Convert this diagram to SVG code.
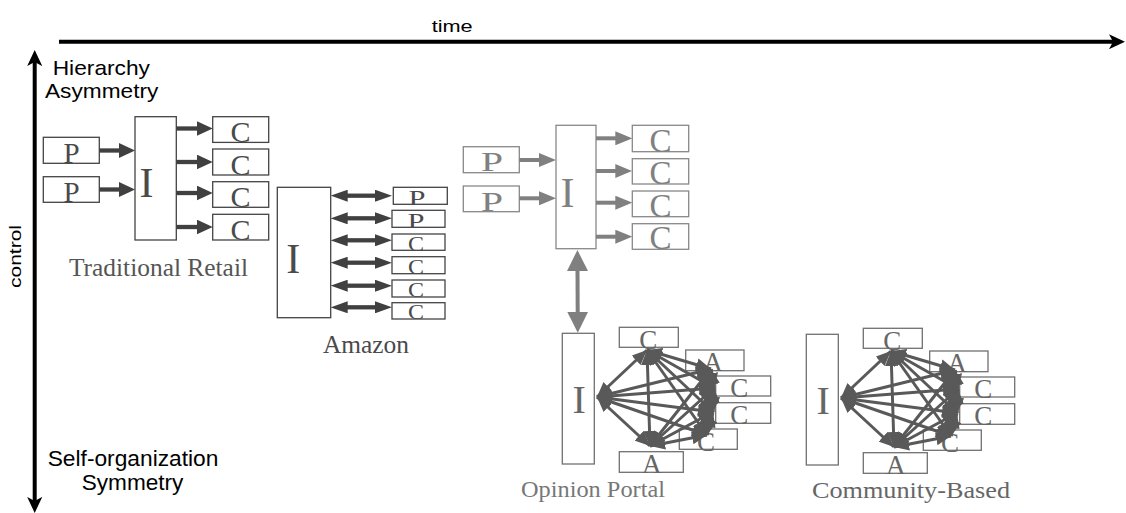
<svg xmlns="http://www.w3.org/2000/svg" width="1126" height="513" viewBox="0 0 1126 513">
<style>
.sans{font-family:"Liberation Sans",Arial,sans-serif;fill:#000}
.ser{font-family:"Liberation Serif","Times New Roman",serif;text-anchor:middle}
.b1{fill:#fff;stroke:#444;stroke-width:1.3}
.t1{fill:#4a4a4a}
.b3{fill:#fff;stroke:#888;stroke-width:1.3}
.t3{fill:#808080}
.bn{fill:#fff;stroke:#707070;stroke-width:1.3}
.tn{fill:#666}
.a1{stroke:#404040;stroke-width:4.3;fill:none}
.a3{stroke:#808080;stroke-width:4;fill:none}
.e{stroke:#595959;stroke-width:3;fill:none;marker-start:url(#m5);marker-end:url(#m5)}
</style>
<defs>
<marker id="mAx" markerUnits="userSpaceOnUse" viewBox="0 0 16 15" markerWidth="16" markerHeight="15" refX="4" refY="7.5" orient="auto-start-reverse"><path d="M0,0 L16,7.5 L0,15 L4,7.5 z" fill="#000"/></marker>
<marker id="m1" markerUnits="userSpaceOnUse" viewBox="0 0 16 15" markerWidth="16" markerHeight="15" refX="1" refY="7.5" orient="auto-start-reverse"><path d="M0,0 L16,7.5 L0,15 z" fill="#404040"/></marker>
<marker id="m2" markerUnits="userSpaceOnUse" viewBox="0 0 17 12" markerWidth="17" markerHeight="12" refX="1" refY="6" orient="auto-start-reverse"><path d="M0,0 L17,6 L0,12 z" fill="#404040"/></marker>
<marker id="m3" markerUnits="userSpaceOnUse" viewBox="0 0 17 14" markerWidth="17" markerHeight="14" refX="1" refY="7" orient="auto-start-reverse"><path d="M0,0 L17,7 L0,14 z" fill="#808080"/></marker>
<marker id="m4" markerUnits="userSpaceOnUse" viewBox="0 0 21 21" markerWidth="21" markerHeight="21" refX="1" refY="10.5" orient="auto-start-reverse"><path d="M0,0 L21,10.5 L0,21 z" fill="#808080"/></marker>
<marker id="m5" markerUnits="userSpaceOnUse" viewBox="0 0 15 13" markerWidth="15" markerHeight="13" refX="15" refY="6.5" orient="auto-start-reverse"><path d="M0,0 L15,6.5 L0,13 z" fill="#595959"/></marker>
</defs>

<g id="axes">
<line x1="59" y1="41.7" x2="1113" y2="41.7" stroke="#000" stroke-width="4" marker-end="url(#mAx)"/>
<line x1="34.7" y1="62" x2="34.7" y2="501" stroke="#000" stroke-width="4" marker-start="url(#mAx)" marker-end="url(#mAx)"/>
<text class="sans" x="431.7" y="31.7" font-size="16" textLength="41" lengthAdjust="spacingAndGlyphs">time</text>
<text class="sans" transform="translate(20.5,256.5) rotate(-90)" text-anchor="middle" font-size="16" textLength="63" lengthAdjust="spacingAndGlyphs">control</text>
<text class="sans" x="52.7" y="75" font-size="21" textLength="97.3" lengthAdjust="spacingAndGlyphs">Hierarchy</text>
<text class="sans" x="45" y="98.3" font-size="21" textLength="113.3" lengthAdjust="spacingAndGlyphs">Asymmetry</text>
<text class="sans" x="47.7" y="466" font-size="22" textLength="170.7" lengthAdjust="spacingAndGlyphs">Self-organization</text>
<text class="sans" x="81.7" y="490" font-size="22" textLength="101.7" lengthAdjust="spacingAndGlyphs">Symmetry</text>
</g>

<g id="traditional-retail">
<g id="tr-p1"><rect class="b1" x="43.3" y="137.3" width="56" height="26"/><text class="ser t1" x="71.5" y="162.5" font-size="29">P</text></g>
<g id="tr-p2"><rect class="b1" x="43.3" y="176.7" width="56" height="25.6"/><text class="ser t1" x="71.5" y="201.5" font-size="29">P</text></g>
<g id="tr-i"><rect class="b1" x="135" y="116.7" width="41.3" height="123.3"/><text class="ser t1" x="146.5" y="196.7" font-size="42">I</text></g>
<g id="tr-c1"><rect class="b1" x="212.7" y="116.7" width="56" height="25.7"/><text class="ser t1" x="240.5" y="141.5" font-size="30">C</text></g>
<g id="tr-c2"><rect class="b1" x="212.7" y="149" width="56" height="26"/><text class="ser t1" x="240.5" y="174.5" font-size="30">C</text></g>
<g id="tr-c3"><rect class="b1" x="212.7" y="181.7" width="56" height="25.6"/><text class="ser t1" x="240.5" y="207" font-size="30">C</text></g>
<g id="tr-c4"><rect class="b1" x="212.7" y="214.3" width="56" height="25.7"/><text class="ser t1" x="240.5" y="239.5" font-size="30">C</text></g>
<text class="ser" x="158.5" y="276" font-size="25" fill="#555" textLength="179" lengthAdjust="spacingAndGlyphs">Traditional Retail</text>
</g>

<g id="amazon">
<g id="am-i"><rect class="b1" x="277.3" y="187.3" width="53.4" height="130.4"/><text class="ser t1" x="293.3" y="273.3" font-size="42">I</text></g>
<g id="am-p1"><rect class="b1" x="393.3" y="187.3" width="54" height="17"/><text class="ser t1" x="417" y="204.5" font-size="22" textLength="17" lengthAdjust="spacingAndGlyphs">P</text></g>
<g id="am-p2"><rect class="b1" x="392" y="210.3" width="53" height="17"/><text class="ser t1" x="416" y="227.5" font-size="22" textLength="17" lengthAdjust="spacingAndGlyphs">P</text></g>
<g id="am-c1"><rect class="b1" x="392" y="234" width="53" height="16.3"/><text class="ser t1" x="416" y="250.5" font-size="22" textLength="16" lengthAdjust="spacingAndGlyphs">C</text></g>
<g id="am-c2"><rect class="b1" x="392" y="256.7" width="53" height="17"/><text class="ser t1" x="416" y="273.5" font-size="22" textLength="16" lengthAdjust="spacingAndGlyphs">C</text></g>
<g id="am-c3"><rect class="b1" x="392" y="280" width="53" height="17"/><text class="ser t1" x="416" y="297" font-size="22" textLength="16" lengthAdjust="spacingAndGlyphs">C</text></g>
<g id="am-c4"><rect class="b1" x="392" y="302.7" width="53" height="16.3"/><text class="ser t1" x="416" y="319" font-size="22" textLength="16" lengthAdjust="spacingAndGlyphs">C</text></g>
<text class="ser" x="366" y="353" font-size="25" fill="#4a4a4a" textLength="86" lengthAdjust="spacingAndGlyphs">Amazon</text>
</g>

<g id="portal-top">
<g id="pt-p1"><rect class="b3" x="463.3" y="146.7" width="56" height="26"/><text class="ser t3" x="492" y="171.3" font-size="28" textLength="22" lengthAdjust="spacingAndGlyphs">P</text></g>
<g id="pt-p2"><rect class="b3" x="463.3" y="186" width="56" height="25.7"/><text class="ser t3" x="492" y="211" font-size="28" textLength="22" lengthAdjust="spacingAndGlyphs">P</text></g>
<g id="pt-i"><rect class="b3" x="556" y="125.3" width="40" height="123.4"/><text class="ser t3" x="567.5" y="206.7" font-size="42">I</text></g>
<g id="pt-c1"><rect class="b3" x="632.3" y="125.3" width="56.4" height="26.4"/><text class="ser t3" x="660.5" y="151.5" font-size="33">C</text></g>
<g id="pt-c2"><rect class="b3" x="632.3" y="158.7" width="56.4" height="25.3"/><text class="ser t3" x="660.5" y="184" font-size="33">C</text></g>
<g id="pt-c3"><rect class="b3" x="632.3" y="191" width="56.4" height="25.7"/><text class="ser t3" x="660.5" y="216.5" font-size="33">C</text></g>
<g id="pt-c4"><rect class="b3" x="632.3" y="223.7" width="56.4" height="25.6"/><text class="ser t3" x="660.5" y="249" font-size="33">C</text></g>
</g>

<g id="opinion-portal">
<g id="op-i"><rect class="bn" x="562.3" y="333.3" width="32" height="130.7"/><text class="ser tn" x="579.2" y="413.3" font-size="40">I</text></g>
<g id="op-ct"><rect class="bn" x="619.3" y="327.3" width="59" height="20"/><text class="ser tn" x="648.3" y="349.3" font-size="27">C</text></g>
<g id="op-ar"><rect class="bn" x="685.7" y="350" width="58.3" height="20.7"/><text class="ser tn" x="713" y="370.7" font-size="27">A</text></g>
<g id="op-c1"><rect class="bn" x="715.7" y="376" width="55" height="20"/><text class="ser tn" x="739.2" y="397.3" font-size="27">C</text></g>
<g id="op-c2"><rect class="bn" x="715.7" y="402.7" width="55" height="20.6"/><text class="ser tn" x="739.2" y="424.3" font-size="27">C</text></g>
<g id="op-cl"><rect class="bn" x="679.3" y="429" width="58" height="20.3"/><text class="ser tn" x="706" y="450.7" font-size="27">C</text></g>
<g id="op-ab"><rect class="bn" x="619.3" y="451.7" width="64" height="20.6"/><text class="ser tn" x="651.7" y="473.3" font-size="27">A</text></g>
<text class="ser" x="593" y="497" font-size="24" fill="#777" textLength="144" lengthAdjust="spacingAndGlyphs">Opinion Portal</text>
</g>

<g id="community-based">
<g transform="translate(244,1)">
<g id="cb-i"><rect class="bn" x="562.3" y="333.3" width="32" height="130.7"/><text class="ser tn" x="579.2" y="413.3" font-size="40">I</text></g>
<g id="cb-ct"><rect class="bn" x="619.3" y="327.3" width="59" height="20"/><text class="ser tn" x="648.3" y="349.3" font-size="27">C</text></g>
<g id="cb-ar"><rect class="bn" x="685.7" y="350" width="58.3" height="20.7"/><text class="ser tn" x="713" y="370.7" font-size="27">A</text></g>
<g id="cb-c1"><rect class="bn" x="715.7" y="376" width="55" height="20"/><text class="ser tn" x="739.2" y="397.3" font-size="27">C</text></g>
<g id="cb-c2"><rect class="bn" x="715.7" y="402.7" width="55" height="20.6"/><text class="ser tn" x="739.2" y="424.3" font-size="27">C</text></g>
<g id="cb-cl"><rect class="bn" x="679.3" y="429" width="58" height="20.3"/><text class="ser tn" x="706" y="450.7" font-size="27">C</text></g>
<g id="cb-ab"><rect class="bn" x="619.3" y="451.7" width="64" height="20.6"/><text class="ser tn" x="651.7" y="473.3" font-size="27">A</text></g>
</g>
<text class="ser" x="911" y="498" font-size="24" fill="#666" textLength="198" lengthAdjust="spacingAndGlyphs">Community-Based</text>
</g>

<g id="connectors">
<g marker-end="url(#m1)" class="a1">
<line x1="99.3" y1="150.5" x2="120" y2="150.5"/>
<line x1="99.3" y1="189.5" x2="120" y2="189.5"/>
<line x1="176.3" y1="128.5" x2="197.7" y2="128.5"/>
<line x1="176.3" y1="162" x2="197.7" y2="162"/>
<line x1="176.3" y1="193" x2="197.7" y2="193"/>
<line x1="176.3" y1="227" x2="197.7" y2="227"/>
</g>
<g marker-start="url(#m2)" marker-end="url(#m2)" class="a1" stroke-width="4">
<line x1="346.7" y1="195.7" x2="376" y2="195.7"/>
<line x1="346.7" y1="218.3" x2="376" y2="218.3"/>
<line x1="346.7" y1="240.3" x2="376" y2="240.3"/>
<line x1="346.7" y1="262.7" x2="376" y2="262.7"/>
<line x1="346.7" y1="285.7" x2="376" y2="285.7"/>
<line x1="346.7" y1="307.3" x2="376" y2="307.3"/>
</g>
<g marker-end="url(#m3)" class="a3">
<line x1="519.3" y1="160" x2="540" y2="160"/>
<line x1="519.3" y1="198.3" x2="540" y2="198.3"/>
<line x1="596" y1="138.3" x2="616.3" y2="138.3"/>
<line x1="596" y1="171" x2="616.3" y2="171"/>
<line x1="596" y1="202.7" x2="616.3" y2="202.7"/>
<line x1="596" y1="236.7" x2="616.3" y2="236.7"/>
</g>
<line class="a3" stroke-width="5.7" x1="577.5" y1="270" x2="577.7" y2="312.7" marker-start="url(#m4)" marker-end="url(#m4)"/>
<g id="net-op">
<path class="e" d="M597 397L647 350"/>
<path class="e" d="M597 397L650 446"/>
<path class="e" d="M597 397L711 369"/>
<path class="e" d="M597 397L714 388"/>
<path class="e" d="M597 397L713 412"/>
<path class="e" d="M597 397L707 435"/>
<path class="e" d="M647 350L650 446"/>
<path class="e" d="M647 350L711 369"/>
<path class="e" d="M647 350L714 388"/>
<path class="e" d="M647 350L713 412"/>
<path class="e" d="M647 350L707 435"/>
<path class="e" d="M650 446L711 369"/>
<path class="e" d="M650 446L714 388"/>
<path class="e" d="M650 446L713 412"/>
<path class="e" d="M650 446L707 435"/>
<path class="e" d="M711 369L714 388"/>
<path class="e" d="M711 369L713 412"/>
<path class="e" d="M711 369L707 435"/>
<path class="e" d="M714 388L713 412"/>
<path class="e" d="M714 388L707 435"/>
<path class="e" d="M713 412L707 435"/>
</g>
<g id="net-cb" transform="translate(244,1)">
<path class="e" d="M597 397L647 350"/>
<path class="e" d="M597 397L650 446"/>
<path class="e" d="M597 397L711 369"/>
<path class="e" d="M597 397L714 388"/>
<path class="e" d="M597 397L713 412"/>
<path class="e" d="M597 397L707 435"/>
<path class="e" d="M647 350L650 446"/>
<path class="e" d="M647 350L711 369"/>
<path class="e" d="M647 350L714 388"/>
<path class="e" d="M647 350L713 412"/>
<path class="e" d="M647 350L707 435"/>
<path class="e" d="M650 446L711 369"/>
<path class="e" d="M650 446L714 388"/>
<path class="e" d="M650 446L713 412"/>
<path class="e" d="M650 446L707 435"/>
<path class="e" d="M711 369L714 388"/>
<path class="e" d="M711 369L713 412"/>
<path class="e" d="M711 369L707 435"/>
<path class="e" d="M714 388L713 412"/>
<path class="e" d="M714 388L707 435"/>
<path class="e" d="M713 412L707 435"/>
</g>
</g>
</svg>
